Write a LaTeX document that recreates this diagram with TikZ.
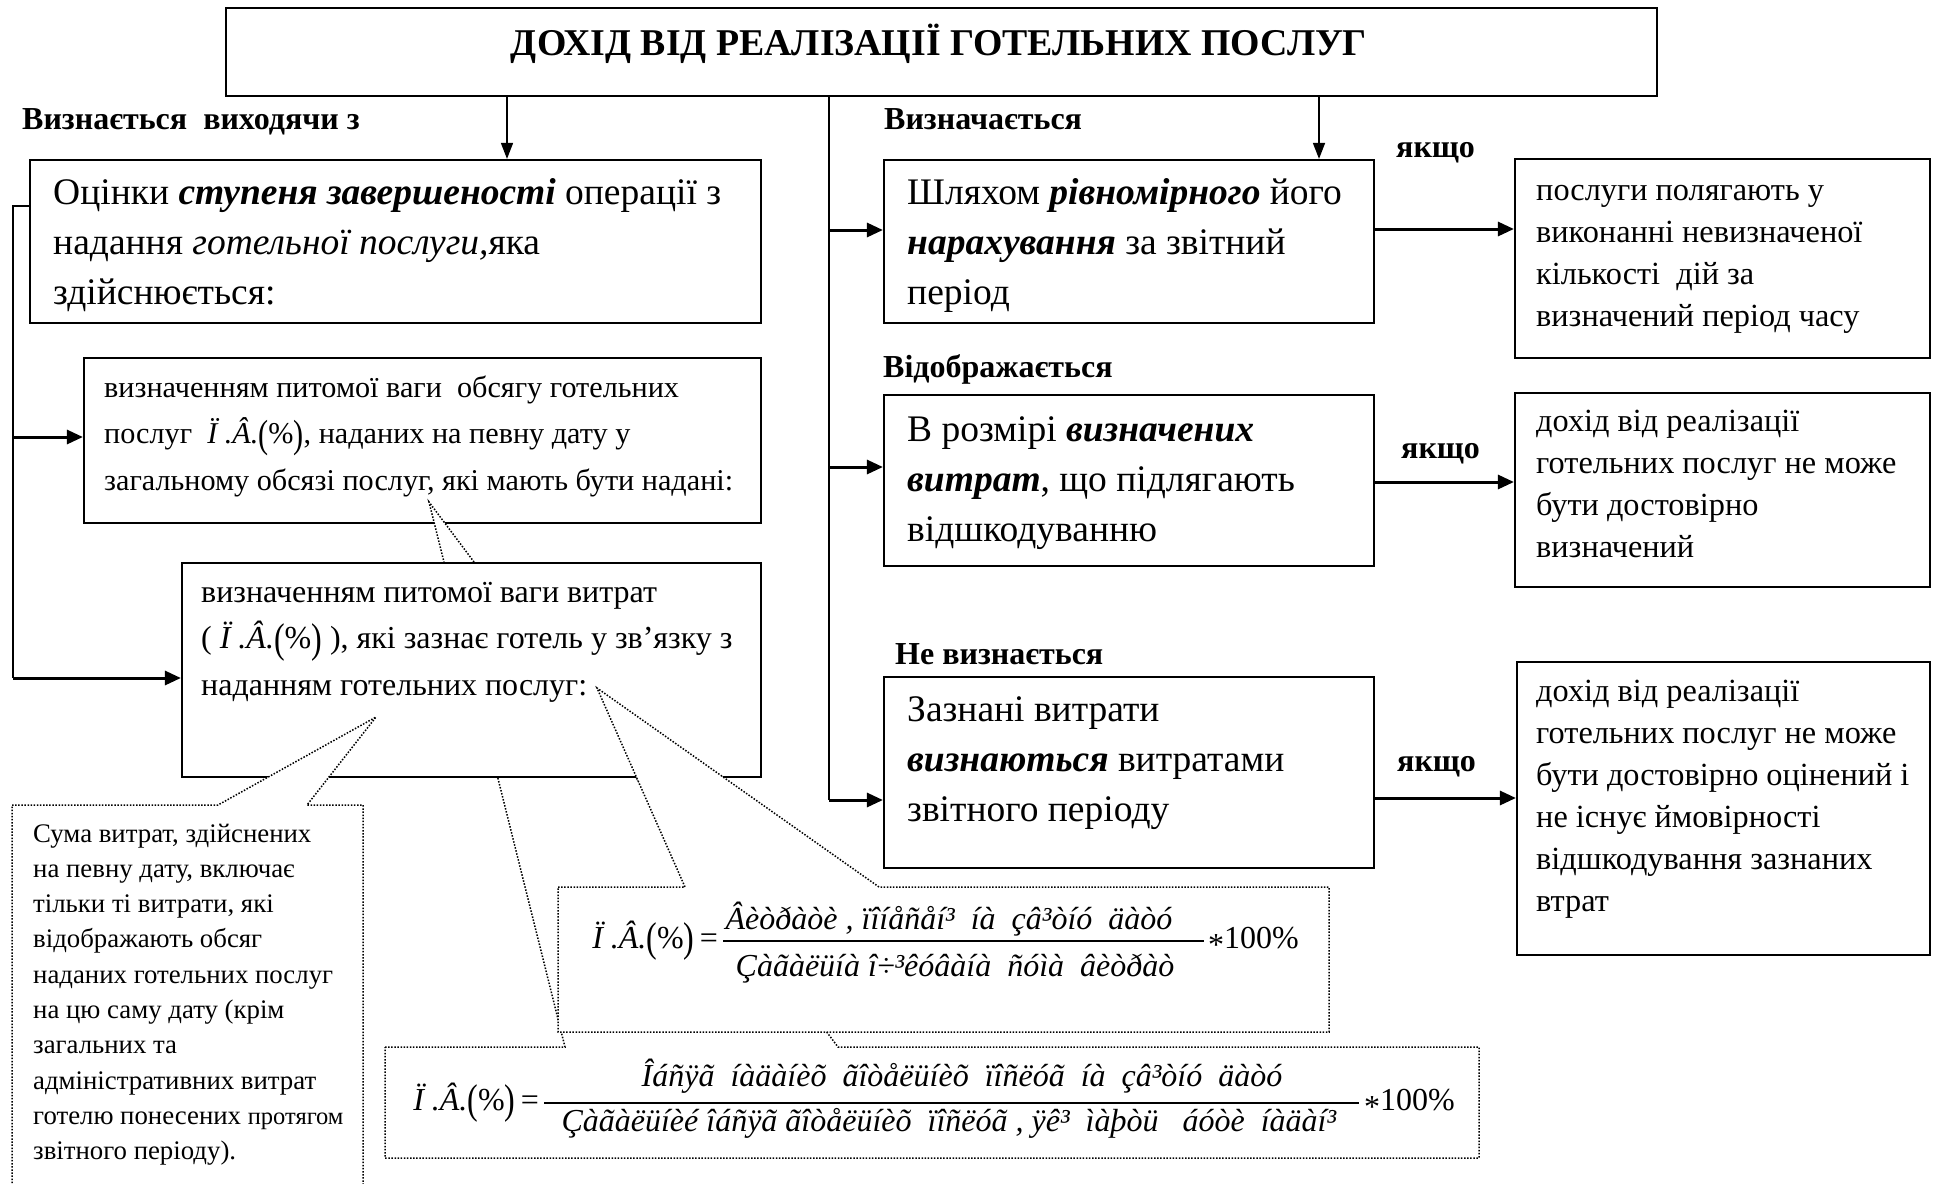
\documentclass[tikz,border=0pt]{standalone}
\usepackage{fontspec}
\usepackage{graphicx}
\setmainfont{Liberation Serif}
\usetikzlibrary{arrows.meta}
\newcommand\mlines[1]{\vtop{\def\\{\egroup\hbox\bgroup}\hbox\bgroup#1\egroup}}
\newcommand\bi[1]{\textbf{\textit{#1}}}
\newcommand\fA{\fontsize{37.5}{50}\selectfont}
\newcommand\fB{\fontsize{32.3}{42}\selectfont}
\newcommand\fC{\fontsize{30.2}{46.5}\selectfont}
\newcommand\fG{\fontsize{32}{46.7}\selectfont}
\newcommand\fD{\fontsize{26.8}{35.3}\selectfont}
\newcommand\fE{\fontsize{32}{34}\selectfont\bfseries}
\newcommand\fT{\fontsize{37.8}{40}\selectfont\bfseries}
\newcommand\fF{\fontsize{32}{36}\selectfont}
\newcommand\bpar[1]{\raisebox{-0.12em}{\scalebox{1}[1.3]{(}}#1\raisebox{-0.12em}{\scalebox{1}[1.3]{)}}}
\newcommand\pvsym{\textit{Ï\ .Â.}\bpar{\%}}
\begin{document}
\begin{tikzpicture}[x=1pt,y=-1pt,
  box/.style={draw, line width=2.2pt, fill=white, inner sep=0pt},
  txt/.style={anchor=base west, inner sep=0pt},
  lbl/.style={font=\fE, inner sep=0pt, anchor=base west},
  thinarr/.style={line width=1.6pt, -{Triangle[length=16pt,width=12pt]}},
  thickarr/.style={line width=3pt, -{Triangle[length=16pt,width=14pt]}},
  callout/.style={draw, fill=white, line width=1.5pt, dash pattern=on 1.5pt off 1.6pt},
  ftxt/.style={font=\fF, inner sep=0pt, anchor=base},
]
\useasboundingbox (0,0) rectangle (1937,1183);
\fill[white] (0,0) rectangle (1937,1183);

% top box
\node[box, minimum width=1431pt, minimum height=88pt] (top) at (941.5,52) {};
\node[font=\fT, inner sep=0pt, anchor=base] (title) at (939,55) {ДОХІД ВІД РЕАЛІЗАЦІЇ ГОТЕЛЬНИХ ПОСЛУГ};

% labels
\node[lbl] (l1) at (22,129) {Визнається\ \ виходячи з};
\node[lbl] (l2) at (884,129) {Визначається};
\node[lbl] (l3) at (1396,157) {якщо};
\node[lbl] (l4) at (883,377) {Відображається};
\node[lbl] (l5) at (1401,458) {якщо};
\node[lbl] (l6) at (895,664) {Не визнається};
\node[lbl] (l7) at (1397,771) {якщо};

% left boxes
\node[box, minimum width=731pt, minimum height=163pt] (b1) at (395.5,241.5) {};
\node[txt, font=\fA] (b1t) at (53,204) {\mlines{Оцінки \bi{ступеня завершеності} операції з\\надання \textit{готельної послуги,}яка\\здійснюється:}};
\node[box, minimum width=677pt, minimum height=165pt] (b2) at (422.5,440.5) {};
\node[txt, font=\fC] (b2t) at (104,397) {\mlines{визначенням питомої ваги\ \ обсягу готельних\\послуг\ \ \pvsym, наданих на певну дату у\\загальному обсязі послуг, які мають бути надані:}};

% callout 3 (under box 3)
\path[callout] (385,1047) -- (565,1047) -- (429,502) -- (838,1047) -- (1479,1047) -- (1479,1158) -- (385,1158) -- cycle;

\node[box, minimum width=579pt, minimum height=214pt] (b3) at (471.5,670) {};
\node[txt, font=\fG] (b3t) at (201,602) {\mlines{визначенням питомої ваги витрат\\( \pvsym\ ), які зазнає готель у зв’язку з\\наданням готельних послуг:}};

% callout 2
\path[callout] (558,887) -- (685,887) -- (597,688) -- (879,887) -- (1329,887) -- (1329,1032) -- (558,1032) -- cycle;
% callout 1
\path[callout] (12,805) -- (218,805) -- (376,717) -- (307,805) -- (363,805) -- (363,1200) -- (12,1200) -- cycle;

\node[txt, font=\fD] (c1t) at (33,842) {\mlines{Сума витрат, здійснених\\на певну дату, включає\\тільки ті витрати, які\\відображають обсяг\\наданих готельних послуг\\на цю саму дату (крім\\загальних та\\адміністративних витрат\\готелю понесених {\fontsize{24.5}{30}\selectfont протягом}\\звітного періоду).}};

% formula 1
\node[font=\fF, inner sep=0pt, anchor=base east] (f1l) at (718,948) {\pvsym\,=};
\node[ftxt] (f1n) at (949,929) {\textit{Âèòðàòè\ , ïîíåñåí³\ \ íà\ \ çâ³òíó\ \ äàòó}};
\node[ftxt] (f1d) at (955,976) {\textit{Çàãàëüíà î÷³êóâàíà\ \ ñóìà\ \ âèòðàò}};
\node[font=\fF, inner sep=0pt, anchor=base west] (f1r) at (1208,948) {\raisebox{-0.22em}{*}100\%};
\draw[line width=1.5pt] (723,941) -- (1204,941);

% formula 2
\node[font=\fF, inner sep=0pt, anchor=base east] (f2l) at (539,1110) {\pvsym\,=};
\node[ftxt] (f2n) at (962,1086) {\textit{Îáñÿã\ \ íàäàíèõ\ \ ãîòåëüíèõ\ \ ïîñëóã\ \ íà\ \ çâ³òíó\ \ äàòó}};
\node[ftxt] (f2d) at (949,1131) {\textit{Çàãàëüíèé îáñÿã ãîòåëüíèõ\ \ ïîñëóã\ , ÿê³\ \ ìàþòü\ \ \ áóòè\ \ íàäàí³}};
\node[font=\fF, inner sep=0pt, anchor=base west] (f2r) at (1364,1110) {\raisebox{-0.22em}{*}100\%};
\draw[line width=1.5pt] (544,1103) -- (1359,1103);

% right column boxes
\node[box, minimum width=490pt, minimum height=163pt] (r1) at (1129,241.5) {};
\node[txt, font=\fA] (r1t) at (907,204) {\mlines{Шляхом \bi{рівномірного} його\\\bi{нарахування} за звітний\\період}};
\node[box, minimum width=490pt, minimum height=171pt] (r2) at (1129,480.5) {};
\node[txt, font=\fA] (r2t) at (907,441) {\mlines{В розмірі \bi{визначених}\\\bi{витрат}, що підлягають\\відшкодуванню}};
\node[box, minimum width=490pt, minimum height=191pt] (r3) at (1129,772.5) {};
\node[txt, font=\fA] (r3t) at (907,721) {\mlines{Зазнані витрати\\\bi{визнаються} витратами\\звітного періоду}};

\node[box, minimum width=415pt, minimum height=199pt] (s1) at (1722.5,258.5) {};
\node[txt, font=\fB] (s1t) at (1536,200) {\mlines{послуги полягають у\\виконанні невизначеної\\кількості\ \ дій за\\визначений період часу}};
\node[box, minimum width=415pt, minimum height=194pt] (s2) at (1722.5,490) {};
\node[txt, font=\fB] (s2t) at (1536,431) {\mlines{дохід від реалізації\\готельних послуг не може\\бути достовірно\\визначений}};
\node[box, minimum width=413pt, minimum height=293pt] (s3) at (1723.5,808.5) {};
\node[txt, font=\fB] (s3t) at (1536,701) {\mlines{дохід від реалізації\\готельних послуг не може\\бути достовірно оцінений і\\не існує ймовірності\\відшкодування зазнаних\\втрат}};

% connectors
\coordinate (xa) at (507,0);
\coordinate (xb) at (1319,0);
\coordinate (xs) at (829,0);
\coordinate (xl) at (13,0);
\draw[thinarr] (top.south -| xa) -- (b1.north -| xa);
\draw[thinarr] (top.south -| xb) -- (r1.north -| xb);
\coordinate (ya1) at (0,230);
\coordinate (ya2) at (0,467);
\coordinate (ya3) at (0,800);
\draw[line width=1.8pt] (top.south -| xs) -- (xs |- ya3);
\draw[thickarr] (xs |- ya1) -- (r1.west |- ya1);
\draw[thickarr] (xs |- ya2) -- (r2.west |- ya2);
\draw[thickarr] (xs |- ya3) -- (r3.west |- ya3);
\coordinate (yb1) at (0,229);
\coordinate (yb2) at (0,482);
\coordinate (yb3) at (0,798);
\draw[thickarr] (r1.east |- yb1) -- (s1.west |- yb1);
\draw[thickarr] (r2.east |- yb2) -- (s2.west |- yb2);
\draw[thickarr] (r3.east |- yb3) -- (s3.west |- yb3);
\coordinate (yc0) at (0,206);
\coordinate (yc1) at (0,437);
\coordinate (yc2) at (0,678);
\draw[line width=1.8pt] (b1.west |- yc0) -- (xl |- yc0) -- (xl |- yc2);
\draw[thickarr] (xl |- yc1) -- (b2.west |- yc1);
\draw[thickarr] (xl |- yc2) -- (b3.west |- yc2);
\end{tikzpicture}
\end{document}
